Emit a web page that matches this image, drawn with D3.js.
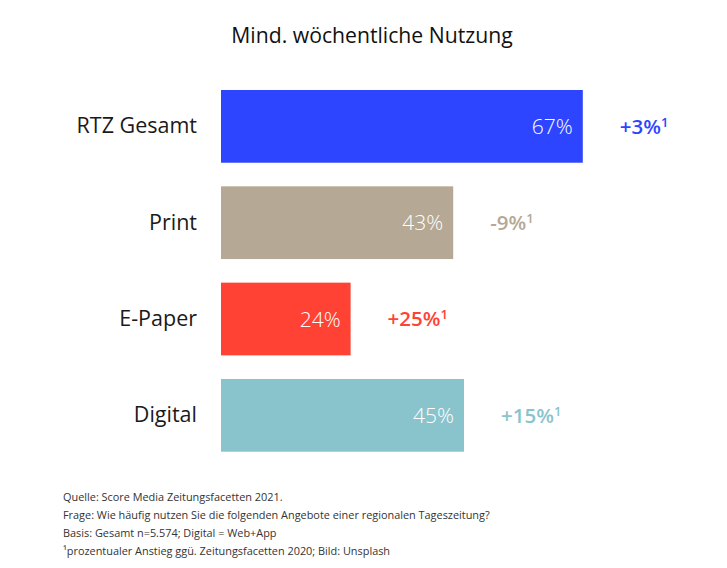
<!DOCTYPE html>
<html>
<head>
<meta charset="utf-8">
<script src="https://cdn.jsdelivr.net/npm/d3@7"></script>
<style>
  body { margin: 0; background: #fff; }
  svg text { font-family: "Open Sans", "Noto Sans", sans-serif; }
</style>
</head>
<body>
<div id="chart"></div>
<script>
const categories = ['RTZ Gesamt', 'Print', 'E-Paper', 'Digital'];
const shares = [67, 43, 24, 45];
const changes = ['+3%', '-9%', '+25%', '+15%'];
const barColors = ['#2d45ff', '#b5a894', '#ff4233', '#89c4cc'];
const footnotes = [
    'Quelle: Score Media Zeitungsfacetten 2021.',
    'Frage: Wie häufig nutzen Sie die folgenden Angebote einer regionalen Tageszeitung?',
    'Basis: Gesamt n=5.574; Digital = Web+App',
    '¹prozentualer Anstieg ggü. Zeitungsfacetten 2020; Bild: Unsplash'
];

const width = 727, height = 568;
const data = categories.map((c, i) => ({ cat: c, val: shares[i], chg: changes[i], color: barColors[i] }));

const svg = d3.select('#chart')
    .append('svg')
    .attr('width', width)
    .attr('height', height);

const xScale = d3.scaleLinear().domain([0, 100]).range([221, 761]);
const yScale = d3.scaleBand().domain(categories).range([90, 451.7]).paddingInner(0.245).paddingOuter(0);

// title
svg.append('text')
    .attr('x', 372)
    .attr('y', 43)
    .attr('text-anchor', 'middle')
    .attr('font-size', 21.2)
    .attr('font-weight', 500)
    .attr('fill', '#111')
    .text('Mind. wöchentliche Nutzung');

// category labels (axis without lines)
const yAxis = svg.append('g')
    .attr('transform', `translate(${xScale(0)},0)`)
    .call(d3.axisLeft(yScale).tickSize(0).tickPadding(24));
yAxis.select('.domain').remove();
yAxis.selectAll('text')
    .attr('font-family', '"Open Sans", "Noto Sans", sans-serif')
    .attr('font-size', 21.5)
    .attr('fill', '#1a1a1a');

const rows = svg.selectAll('g.row')
    .data(data)
    .join('g')
    .attr('class', 'row');

rows.append('rect')
    .attr('x', xScale(0))
    .attr('y', d => yScale(d.cat))
    .attr('width', d => xScale(d.val) - xScale(0))
    .attr('height', yScale.bandwidth())
    .attr('fill', d => d.color);

rows.append('text')
    .attr('x', d => xScale(d.val) - 10)
    .attr('y', d => yScale(d.cat) + yScale.bandwidth() / 2)
    .attr('dy', '0.36em')
    .attr('text-anchor', 'end')
    .attr('font-size', 21)
    .attr('font-weight', 300)
    .attr('fill', '#fff')
    .text(d => d.val + '%');

const chg = rows.append('text')
    .attr('x', d => xScale(d.val) + 37)
    .attr('y', d => yScale(d.cat) + yScale.bandwidth() / 2)
    .attr('dy', '0.36em')
    .attr('font-size', 20.5)
    .attr('font-weight', 600)
    .attr('fill', d => d.color);
chg.append('tspan').text(d => d.chg);
chg.append('tspan')
    .attr('font-size', 13)
    .attr('dy', '-0.55em')
    .text('1');

// footnotes
svg.append('g')
    .selectAll('text')
    .data(footnotes)
    .join('text')
    .attr('x', 63)
    .attr('y', (d, i) => 501 + i * 18)
    .attr('font-size', 10.9)
    .attr('fill', '#333')
    .text(d => d);
</script>
</body>
</html>
